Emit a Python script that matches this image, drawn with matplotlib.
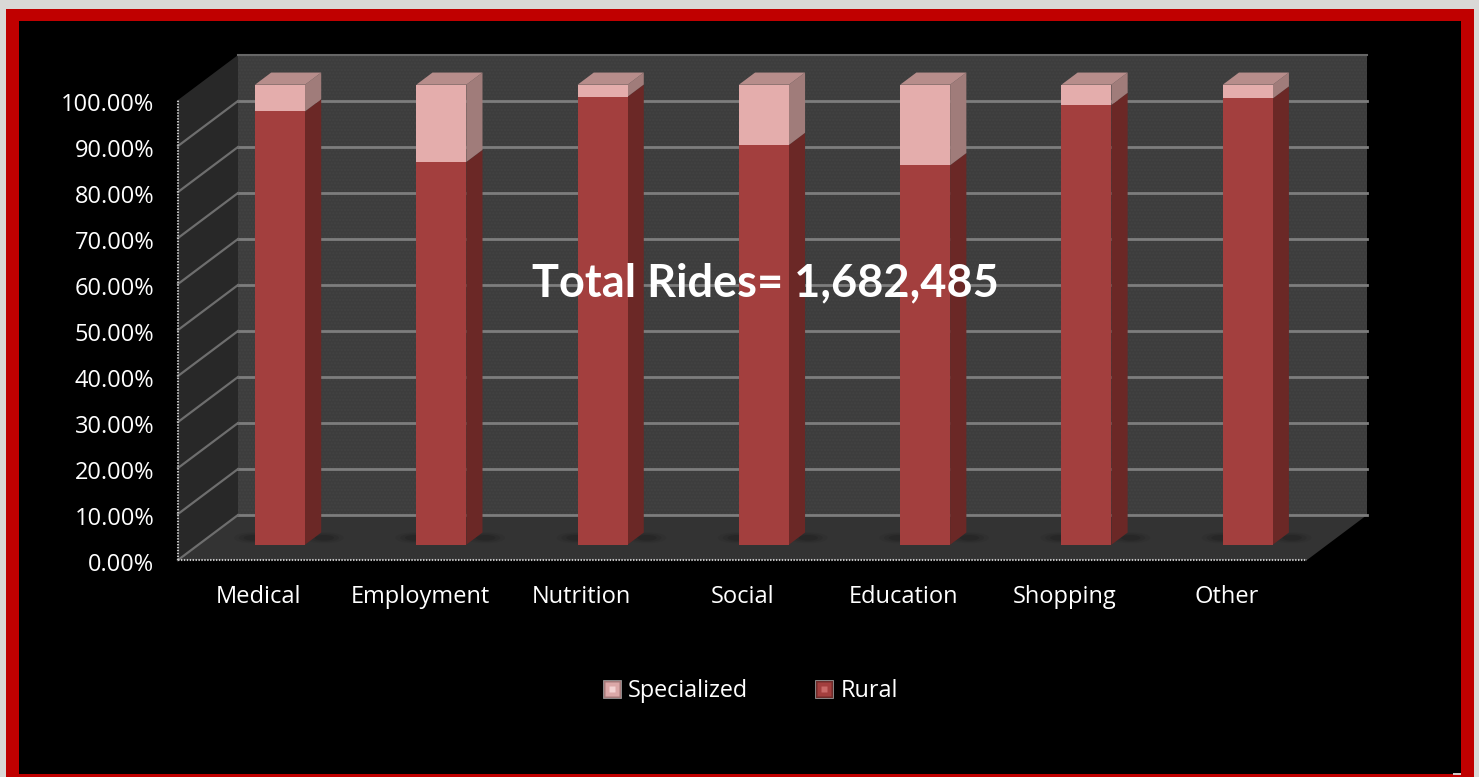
import matplotlib.pyplot as plt
import matplotlib.patches as mpatches
from matplotlib.lines import Line2D
from matplotlib.legend_handler import HandlerTuple
from matplotlib.transforms import ScaledTranslation
import numpy as np

categories = ['Medical', 'Employment', 'Nutrition', 'Social', 'Education', 'Shopping', 'Other']
rural = [94.2, 83.2, 97.4, 86.9, 82.5, 95.6, 97.0]
specialized = [5.8, 16.8, 2.6, 13.1, 17.5, 4.4, 3.0]
y_ticks = [0, 10, 20, 30, 40, 50, 60, 70, 80, 90, 100]
y_labels = ['0.00%', '10.00%', '20.00%', '30.00%', '40.00%', '50.00%',
            '60.00%', '70.00%', '80.00%', '90.00%', '100.00%']

W, H = 1479, 777
plt.rcParams['font.family'] = ['Open Sans', 'DejaVu Sans']

fig = plt.figure(figsize=(W / 100, H / 100), dpi=100, facecolor='#d9d8d6')


def frame(x0, y0, x1, y1, color):
    # rectangle given in image pixels, y going down
    fig.add_artist(mpatches.Rectangle((x0 / W, 1 - y1 / H), (x1 - x0) / W, (y1 - y0) / H,
                                      transform=fig.transFigure, color=color, lw=0, zorder=-5))


frame(6, 9, 1474, 777, '#c00000')
frame(19, 21, 1461, 774, '#000000')
frame(1453, 773, 1461, 775, '#d0c8c8')

# front plane of the 3d box is the real axes, 161.3 px per category and 4.6 px per percent
ax = fig.add_axes([178 / W, 1 - 560 / H, 1129 / W, 460 / H])
ax.set_facecolor('none')
ax.set_xlim(0, 7)
ax.set_ylim(0, 100)

DX = 60 / (1129 / 7)
DY = 45 / 4.6


def pr(x, y, d):
    return (x + d * DX, y + d * DY)


def poly(pts, color, z=1, **kw):
    ax.add_patch(mpatches.Polygon(pts, closed=True, facecolor=color, edgecolor='none',
                                  zorder=z, clip_on=False, **kw))


# walls
poly([pr(0, 0, 1), pr(7, 0, 1), pr(7, 100, 1), pr(0, 100, 1)], '#3d3d3d', z=1)
ax.add_patch(mpatches.Polygon([pr(0, 0, 1), pr(7, 0, 1), pr(7, 100, 1), pr(0, 100, 1)],
                              closed=True, facecolor='none', edgecolor='#434343', hatch='.....',
                              lw=0, zorder=1.1, clip_on=False))
poly([pr(0, 0, 0), pr(0, 0, 1), pr(0, 100, 1), pr(0, 100, 0)], '#282828', z=1)
poly([pr(0, 0, 0), pr(7, 0, 0), pr(7, 0, 1), pr(0, 0, 1)], '#333333', z=1)

# gridlines along back wall and left wall
for t in y_ticks:
    if t == 100:
        ax.plot(*zip(pr(0, t, 1), pr(7, t, 1)), color='#666666', lw=1.5, zorder=2, clip_on=False)
        continue
    ax.plot(*zip(pr(0, t, 1), pr(7, t, 1)), color='#7d7d7d', lw=2, zorder=2, clip_on=False)
    ax.plot(*zip(pr(0, t, 0), pr(0, t, 1)), color='#6e6e6e', lw=1.6, zorder=2, clip_on=False)

# bars
bar_w = 50 / (1129 / 7)
d0, d1 = 0.34, 0.61
xs = np.arange(len(categories)) + 0.5
sx, sy = pr(xs - bar_w / 2 + 0.006, 0, d0)

for x0, r, s in zip(sx, rural, specialized):
    x1 = x0 + bar_w
    # soft shadow on the floor either side of the base
    for a, grow in [(0.08, 1.0), (0.12, 0.75), (0.18, 0.5)]:
        for cx in (x0 - 0.01, x1 + 0.12):
            ax.add_patch(mpatches.Ellipse((cx, sy + 1.5), 0.24 * grow, 2.4 * grow, facecolor='#111111',
                                          edgecolor='none', alpha=a, zorder=2.5, clip_on=False))

ax.bar(sx, rural, bar_w, bottom=sy, align='edge', color='#a33f3e', zorder=4, label='Rural', clip_on=False)
ax.bar(sx, specialized, bar_w, bottom=sy + np.array(rural), align='edge', color='#e4adac', zorder=4,
       label='Specialized', clip_on=False)

step_x = (d1 - d0) * DX
step_y = (d1 - d0) * DY
for x0, r, s in zip(sx, rural, specialized):
    x1 = x0 + bar_w
    poly([(x1, sy), (x1 + step_x, sy + step_y), (x1 + step_x, sy + r + step_y), (x1, sy + r)], '#6b2826', z=3.5)
    top = sy + r + s
    poly([(x1, sy + r), (x1 + step_x, sy + r + step_y), (x1 + step_x, top + step_y), (x1, top)], '#a07c7a', z=3.5)
    poly([(x0, top), (x1, top), (x1 + step_x, top + step_y), (x0 + step_x, top + step_y)], '#b78d8b', z=3.5)

# axes
for side in ['top', 'right']:
    ax.spines[side].set_visible(False)
for side in ['left', 'bottom']:
    ax.spines[side].set_color('#c4c4c4')
    ax.spines[side].set_linestyle((0, (0.7, 0.7)))
    ax.spines[side].set_linewidth(1.5)
    ax.spines[side].set_capstyle('butt')
    ax.spines[side].set_zorder(6)
ax.set_xticks(xs)
ax.set_xticklabels(categories, fontsize=17, color='white')
ax.set_yticks(y_ticks)
ax.set_yticklabels(y_labels, fontsize=17, color='white')
ax.tick_params(axis='both', length=0)
ax.tick_params(axis='x', pad=18)
ax.tick_params(axis='y', pad=17)
for lab in ax.get_yticklabels():
    lab.set_transform(lab.get_transform() + ScaledTranslation(0, -1.5 / 72, fig.dpi_scale_trans))

ax.text(765 / W, 1 - 283 / H, 'Total Rides= 1,682,485', transform=fig.transFigure, color='white',
        fontsize=32.5, fontweight='bold', family=['Lato', 'DejaVu Sans'], ha='center', va='center', zorder=8)


def swatch(outer, mid, inner):
    return (Line2D([], [], ls='none', marker='s', ms=13, mfc=outer, mec='#999999', mew=0.6),
            Line2D([], [], ls='none', marker='s', ms=9.5, mfc=mid, mec='none'),
            Line2D([], [], ls='none', marker='s', ms=5, mfc=inner, mec='none'))


handles = [swatch('#a57a7a', '#dba8a8', '#f3d3d3'), swatch('#6e2c2a', '#a33f3e', '#c96a68')]
fig.legend(handles, ['Specialized', 'Rural'], handler_map={tuple: HandlerTuple(ndivide=1, pad=0)},
           ncol=2, frameon=False, fontsize=16.8, labelcolor='white', loc='center',
           bbox_to_anchor=(749 / W, 1 - 691 / H), handlelength=1, handletextpad=0.2, columnspacing=2.75)

fig.savefig('out.png', dpi=100, facecolor=fig.get_facecolor())
